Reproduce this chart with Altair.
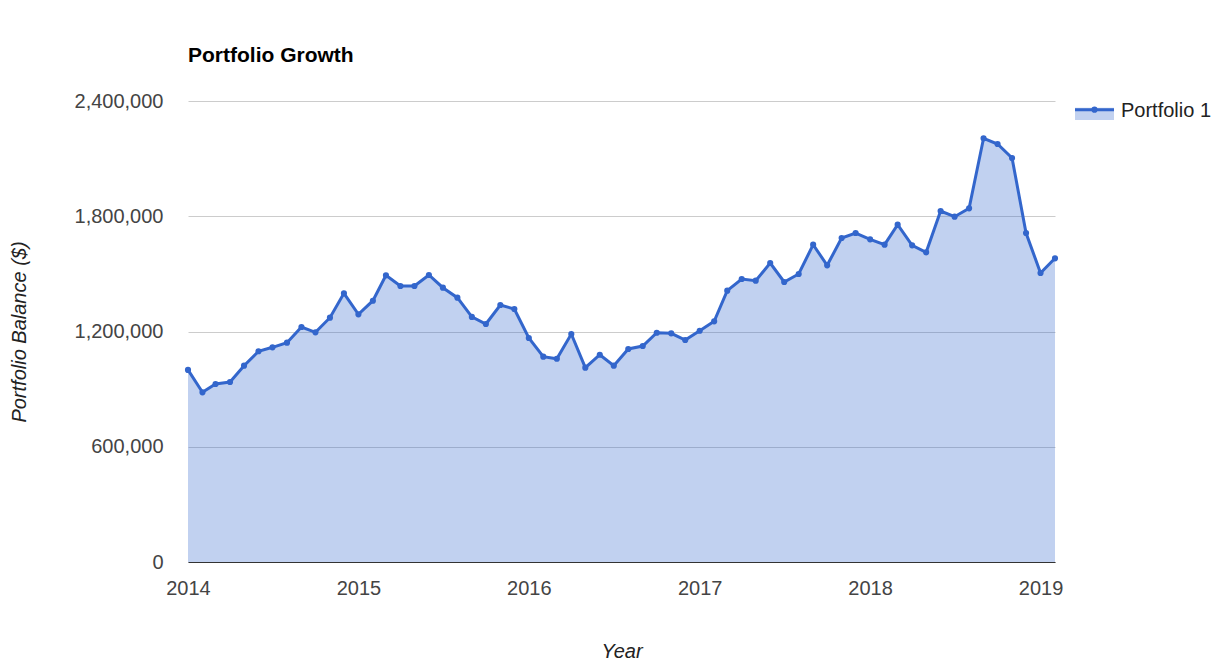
import altair as alt
import pandas as pd

# ---- data ----
series_name = "Portfolio 1"
start_month = "2014-01-01"
balance = [
    1000000, 883500, 926700, 937000, 1022000, 1097000, 1117700, 1141700,
    1223400, 1195800, 1271900, 1398800, 1289500, 1360300, 1492600, 1436900,
    1436900, 1494100, 1428000, 1376000, 1276000, 1239000, 1338000, 1317000,
    1166000, 1069000, 1058000, 1187000, 1011600, 1079000, 1022000, 1109000,
    1124500, 1193700, 1190600, 1155700, 1204000, 1253000, 1412400, 1473300,
    1464500, 1556600, 1457700, 1499300, 1652000, 1544500, 1686700, 1712800,
    1680000, 1652000, 1756000, 1648700, 1612300, 1827300, 1797700, 1841300,
    2205800, 2176100, 2103200, 1712800, 1504500, 1581000,
]
year_ticks = [2014, 2015, 2016, 2017, 2018, 2019]
y_ticks = [0, 600000, 1200000, 1800000, 2400000]

months = pd.date_range(start_month, periods=len(balance), freq="MS")
df = pd.DataFrame({"date": months, "balance": balance, "series": series_name})

FONT = "Arial, Liberation Sans, sans-serif"
BLUE = "#3366CC"
W, H = 867, 461

x_enc = alt.X(
    "date:T",
    scale=alt.Scale(domain=[alt.DateTime(year=2014, month=1, date=1),
                            alt.DateTime(year=2019, month=2, date=1)], nice=False),
    axis=alt.Axis(
        values=[alt.DateTime(year=y, month=1, date=1) for y in year_ticks],
        format="%Y", grid=False, ticks=False, domain=True,
        domainColor="#333333", domainWidth=1, zindex=1,
        labelFontSize=20, labelColor="#444444", labelPadding=16,
        labelFont=FONT, labelAlign="center",
        title="Year", titleFont=FONT, titleFontSize=20, titleFontStyle="italic",
        titleFontWeight="normal", titleColor="#222222",
        titleX=433.5, titleY=95, titleBaseline="alphabetic", titleAlign="center",
    ),
)
y_enc = alt.Y(
    "balance:Q",
    scale=alt.Scale(domain=[0, 2400000], nice=False),
    axis=alt.Axis(
        values=y_ticks, format=",d", grid=True, gridColor="#cccccc",
        ticks=False, domain=False,
        labelFontSize=20, labelColor="#444444", labelPadding=25, labelFont=FONT,
        title="Portfolio Balance ($)", titleFont=FONT, titleFontSize=20,
        titleFontStyle="italic", titleFontWeight="normal", titleColor="#222222",
        titleX=-163, titleY=230.5, titleAngle=-90, titleAlign="center",
        titleBaseline="alphabetic",
    ),
)

base = alt.Chart(df)
area = base.mark_area(color=BLUE, opacity=0.3).encode(x=x_enc, y=y_enc)
line = base.mark_line(color=BLUE, strokeWidth=3).encode(x="date:T", y="balance:Q")
pts = base.mark_circle(color=BLUE, size=38, opacity=1).encode(x="date:T", y="balance:Q")

# ---- legend (decoration) ----
leg_df = pd.DataFrame({"series": [series_name]})
leg = alt.Chart(leg_df)
leg_rect = leg.mark_rect(color=BLUE, opacity=0.3).encode(
    x=alt.value(887), x2=alt.value(926), y=alt.value(6.7), y2=alt.value(19))
leg_line = leg.mark_rule(color=BLUE, strokeWidth=3).encode(
    x=alt.value(887), x2=alt.value(926), y=alt.value(8.7))
leg_dot = leg.mark_circle(color=BLUE, size=38, opacity=1).encode(
    x=alt.value(906.5), y=alt.value(8.7))
leg_text = leg.mark_text(align="left", baseline="middle", font=FONT,
                         fontSize=20, color="#222222").encode(
    x=alt.value(933), y=alt.value(9.5), text="series:N")

chart = alt.layer(area, line, pts, leg_rect, leg_line, leg_dot, leg_text).properties(
    width=W, height=H,
    background="white",
    title=alt.TitleParams("Portfolio Growth", anchor="start", frame="group",
                          font=FONT, fontSize=21, fontWeight="bold",
                          color="#000000", offset=8, baseline="alphabetic"),
    autosize=alt.AutoSizeParams(type="none"),
    padding={"left": 180, "top": 93, "right": 156, "bottom": 102},
).configure_view(strokeWidth=0, stroke="transparent")

chart.save("out.html", embed_options={"renderer": "svg", "actions": False})
